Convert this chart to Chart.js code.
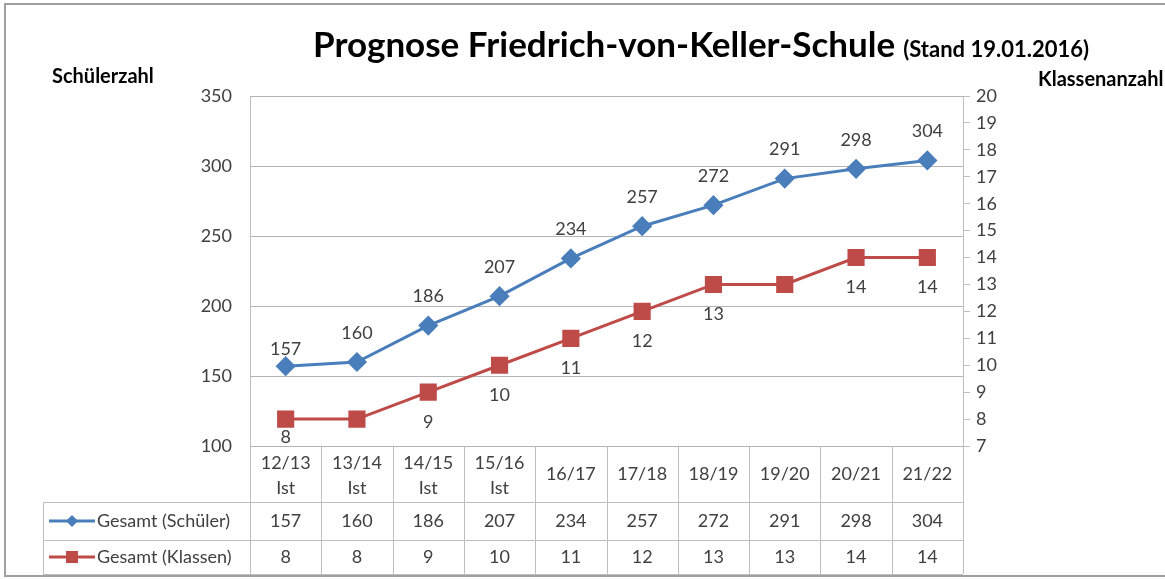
<!DOCTYPE html>
<html>
<head>
<meta charset="utf-8">
<script src="https://cdn.jsdelivr.net/npm/chart.js@4"></script>
<style>
  html, body { margin: 0; padding: 0; background: #fff; }
  #wrap { width: 1165px; height: 579px; position: relative; }
</style>
</head>
<body>
<div id="wrap"><canvas id="prognoseChart"></canvas></div>
<script>
// Schuljahre (Kopfzeile der Datentabelle)
var jahre = ['12/13', '13/14', '14/15', '15/16', '16/17', '17/18', '18/19', '19/20', '20/21', '21/22'];
var jahrZusatz = ['Ist', 'Ist', 'Ist', 'Ist', '', '', '', '', '', ''];
var schueler = [157, 160, 186, 207, 234, 257, 272, 291, 298, 304];
var klassen = [8, 8, 9, 10, 11, 12, 13, 13, 14, 14];
var schuelerTicks = [100, 150, 200, 250, 300, 350];
var klassenTicks = [7, 8, 9, 10, 11, 12, 13, 14, 15, 16, 17, 18, 19, 20];

var FONT = 'Lato, "Open Sans", sans-serif';
var TEXT = '#404040';
var LINE = '#bfbfbf';
var BLAU = '#4a7ebb';
var ROT = '#be4b48';
var FS = 18;

// Titel, Achsentitel und Rahmen
var titelPlugin = {
    id: 'titel',
    afterDraw: function (chart) {
        var ctx = chart.ctx;
        ctx.save();
        ctx.strokeStyle = '#a0a0a0';
        ctx.lineWidth = 2;
        ctx.strokeRect(5, 4, 1180, 572);
        ctx.fillStyle = '#000';
        ctx.textBaseline = 'middle';
        ctx.textAlign = 'left';
        ctx.font = 'bold 35px ' + FONT;
        var t1 = 'Prognose Friedrich-von-Keller-Schule';
        ctx.fillText(t1, 313, 46);
        var w = ctx.measureText(t1).width;
        ctx.font = 'bold 22px ' + FONT;
        ctx.fillText('(Stand 19.01.2016)', 313 + w + 8, 50);
        ctx.font = 'bold 20px ' + FONT;
        ctx.fillText('Schülerzahl', 52, 77);
        ctx.fillText('Klassenanzahl', 1038, 80);
        ctx.restore();
    }
};

// Datenbeschriftungen
var labelPlugin = {
    id: 'werte',
    afterDatasetsDraw: function (chart) {
        var ctx = chart.ctx;
        var area = chart.chartArea;
        ctx.save();
        ctx.font = FS + 'px ' + FONT;
        ctx.fillStyle = TEXT;
        ctx.textAlign = 'center';
        ctx.textBaseline = 'middle';
        chart.getDatasetMeta(0).data.forEach(function (p, i) {
            var dy = i === 0 ? -17 : -29;
            ctx.fillText(String(schueler[i]), p.x, p.y + dy);
        });
        chart.getDatasetMeta(1).data.forEach(function (p, i) {
            if (i === 1 || i === 7) return;
            var y = Math.min(p.y + 30, area.bottom - 9);
            ctx.fillText(String(klassen[i]), p.x, y);
        });
        ctx.restore();
    }
};

// Datentabelle unter dem Diagramm
var tabellePlugin = {
    id: 'tabelle',
    afterDraw: function (chart) {
        var ctx = chart.ctx;
        var area = chart.chartArea;
        var xs = chart.scales.x;
        var n = jahre.length;
        var colW = (area.right - area.left) / n;
        var top = area.bottom, r1 = 502, r2 = 540, r3 = 574, legL = 43;
        ctx.save();
        ctx.strokeStyle = LINE;
        ctx.lineWidth = 1;
        ctx.beginPath();
        // waagrechte Linien
        [r1, r2, r3].forEach(function (y) {
            ctx.moveTo(legL, y + 0.5);
            ctx.lineTo(area.right, y + 0.5);
        });
        // senkrechte Linien
        for (var i = 0; i <= n; i++) {
            var x = Math.round(area.left + i * colW) + 0.5;
            ctx.moveTo(x, top);
            ctx.lineTo(x, r3);
        }
        ctx.moveTo(legL + 0.5, r1);
        ctx.lineTo(legL + 0.5, r3);
        ctx.stroke();

        ctx.fillStyle = TEXT;
        ctx.font = FS + 'px ' + FONT;
        ctx.textAlign = 'center';
        ctx.textBaseline = 'middle';
        for (var j = 0; j < n; j++) {
            var cx = xs.getPixelForValue(j);
            if (jahrZusatz[j]) {
                ctx.fillText(jahre[j], cx, 463);
                ctx.fillText(jahrZusatz[j], cx, 488);
            } else {
                ctx.fillText(jahre[j], cx, 474);
            }
            ctx.fillText(String(schueler[j]), cx, 521);
            ctx.fillText(String(klassen[j]), cx, 557);
        }

        // Legende in der Tabelle
        var zeilen = [
            { y: 521, farbe: BLAU, text: 'Gesamt (Schüler)', form: 'diamond' },
            { y: 557, farbe: ROT, text: 'Gesamt (Klassen)', form: 'square' }
        ];
        zeilen.forEach(function (z) {
            ctx.strokeStyle = z.farbe;
            ctx.lineWidth = 3;
            ctx.beginPath();
            ctx.moveTo(49, z.y);
            ctx.lineTo(95, z.y);
            ctx.stroke();
            ctx.fillStyle = z.farbe;
            ctx.beginPath();
            if (z.form === 'diamond') {
                ctx.moveTo(72, z.y - 6);
                ctx.lineTo(78, z.y);
                ctx.lineTo(72, z.y + 6);
                ctx.lineTo(66, z.y);
                ctx.closePath();
                ctx.fill();
            } else {
                ctx.fillRect(66, z.y - 6, 12, 12);
            }
            ctx.fillStyle = TEXT;
            ctx.textAlign = 'left';
            ctx.fillText(z.text, 97, z.y);
        });
        ctx.restore();
    }
};

new Chart(document.getElementById('prognoseChart'), {
    type: 'line',
    data: {
        labels: jahre,
        datasets: [{
            label: 'Gesamt (Schüler)',
            data: schueler,
            yAxisID: 'y',
            borderColor: BLAU,
            backgroundColor: BLAU,
            borderWidth: 3,
            pointStyle: 'rectRot',
            pointRadius: 8,
            pointHoverRadius: 8,
            tension: 0
        }, {
            label: 'Gesamt (Klassen)',
            data: klassen,
            yAxisID: 'y1',
            borderColor: ROT,
            backgroundColor: ROT,
            borderWidth: 3,
            pointStyle: 'rect',
            pointRadius: 10,
            pointHoverRadius: 10,
            tension: 0
        }]
    },
    options: {
        responsive: true,
        maintainAspectRatio: false,
        animation: false,
        layout: { padding: { left: 0, right: 0, top: 96, bottom: 133 } },
        plugins: {
            legend: { display: false },
            tooltip: { enabled: false }
        },
        scales: {
            x: {
                display: false,
                offset: true
            },
            y: {
                position: 'left',
                min: 100,
                max: 350,
                afterFit: function (s) { s.width = 250; },
                afterBuildTicks: function (s) {
                    s.ticks = schuelerTicks.map(function (v) { return { value: v }; });
                },
                border: { display: true, color: LINE, width: 1 },
                grid: { color: '#b4b4b4', lineWidth: 1, drawTicks: false },
                ticks: { color: TEXT, padding: 18, font: { family: FONT, size: FS } }
            },
            y1: {
                position: 'right',
                min: 7,
                max: 20,
                afterFit: function (s) { s.width = 202; },
                afterBuildTicks: function (s) {
                    s.ticks = klassenTicks.map(function (v) { return { value: v }; });
                },
                border: { display: true, color: LINE, width: 1 },
                grid: { drawOnChartArea: false, color: LINE, tickLength: 7 },
                ticks: { color: TEXT, padding: 6, font: { family: FONT, size: FS } }
            }
        }
    },
    plugins: [titelPlugin, labelPlugin, tabellePlugin]
});
</script>
</body>
</html>
